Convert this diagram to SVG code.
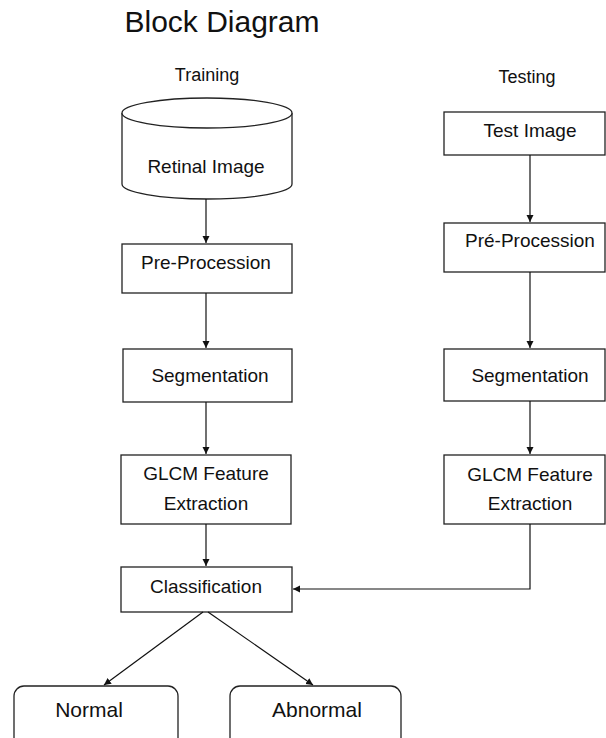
<svg xmlns="http://www.w3.org/2000/svg" width="606" height="738" viewBox="0 0 606 738">
<style>
.box{fill:#fff;stroke:#222;stroke-width:1.3}
.t{font-family:"Liberation Sans",Arial,sans-serif;font-size:19px;fill:#111;text-anchor:middle}
.h{font-size:30px}
.s{font-size:18px}
.b{font-size:21px}
.c{fill:none;stroke:#111;stroke-width:1.2}
</style>
<defs>
<marker id="a" markerWidth="8" markerHeight="8" refX="7" refY="4" orient="auto" markerUnits="userSpaceOnUse">
<path d="M0,0.5 L7,4 L0,7.5 Z" fill="#111"/>
</marker>
</defs>
<rect width="606" height="738" fill="#fff"/>
<text class="t h" x="222" y="32">Block Diagram</text>
<text class="t s" x="207" y="81">Training</text>
<text class="t s" x="527" y="83">Testing</text>

<g id="retinal">
<path class="box" d="M122,113 L122,184 A85,15 0 0 0 292,184 L292,113"/>
<ellipse class="box" cx="207" cy="113" rx="85" ry="15"/>
<text class="t" x="206" y="173">Retinal Image</text>
</g>
<g id="preproc-train">
<rect class="box" x="122" y="244" width="170" height="49"/>
<text class="t" x="206" y="269">Pre-Procession</text>
</g>
<g id="seg-train">
<rect class="box" x="123" y="349" width="169" height="53"/>
<text class="t" x="210" y="382">Segmentation</text>
</g>
<g id="glcm-train">
<rect class="box" x="121" y="455" width="170" height="69"/>
<text class="t" x="206" y="480">GLCM Feature</text>
<text class="t" x="206" y="510">Extraction</text>
</g>
<g id="classification">
<rect class="box" x="121" y="567" width="171" height="45"/>
<text class="t" x="206" y="593">Classification</text>
</g>
<g id="normal">
<rect class="box" x="14" y="686" width="164" height="70" rx="10"/>
<text class="t b" x="89" y="717">Normal</text>
</g>
<g id="abnormal">
<rect class="box" x="230" y="686" width="171" height="70" rx="10"/>
<text class="t b" x="317" y="717">Abnormal</text>
</g>
<g id="test-image">
<rect class="box" x="444" y="112" width="161" height="43"/>
<text class="t" x="530" y="137">Test Image</text>
</g>
<g id="preproc-test">
<rect class="box" x="444" y="223" width="161" height="49"/>
<text class="t" x="530" y="247">Pré-Procession</text>
</g>
<g id="seg-test">
<rect class="box" x="444" y="349" width="161" height="52"/>
<text class="t" x="530" y="382">Segmentation</text>
</g>
<g id="glcm-test">
<rect class="box" x="444" y="455" width="161" height="69"/>
<text class="t" x="530" y="481">GLCM Feature</text>
<text class="t" x="530" y="510">Extraction</text>
</g>

<g id="connectors">
<line class="c" x1="206" y1="199" x2="206" y2="243" marker-end="url(#a)"/>
<line class="c" x1="206" y1="293" x2="206" y2="348" marker-end="url(#a)"/>
<line class="c" x1="206" y1="402" x2="206" y2="454" marker-end="url(#a)"/>
<line class="c" x1="206" y1="524" x2="206" y2="566" marker-end="url(#a)"/>
<line class="c" x1="530" y1="155" x2="530" y2="222" marker-end="url(#a)"/>
<line class="c" x1="530" y1="272" x2="530" y2="348" marker-end="url(#a)"/>
<line class="c" x1="530" y1="401" x2="530" y2="454" marker-end="url(#a)"/>
<polyline class="c" points="530,524 530,589 293,589" marker-end="url(#a)"/>
<line class="c" x1="203" y1="612" x2="104" y2="685" marker-end="url(#a)"/>
<line class="c" x1="208" y1="612" x2="313" y2="685" marker-end="url(#a)"/>
</g>
</svg>
